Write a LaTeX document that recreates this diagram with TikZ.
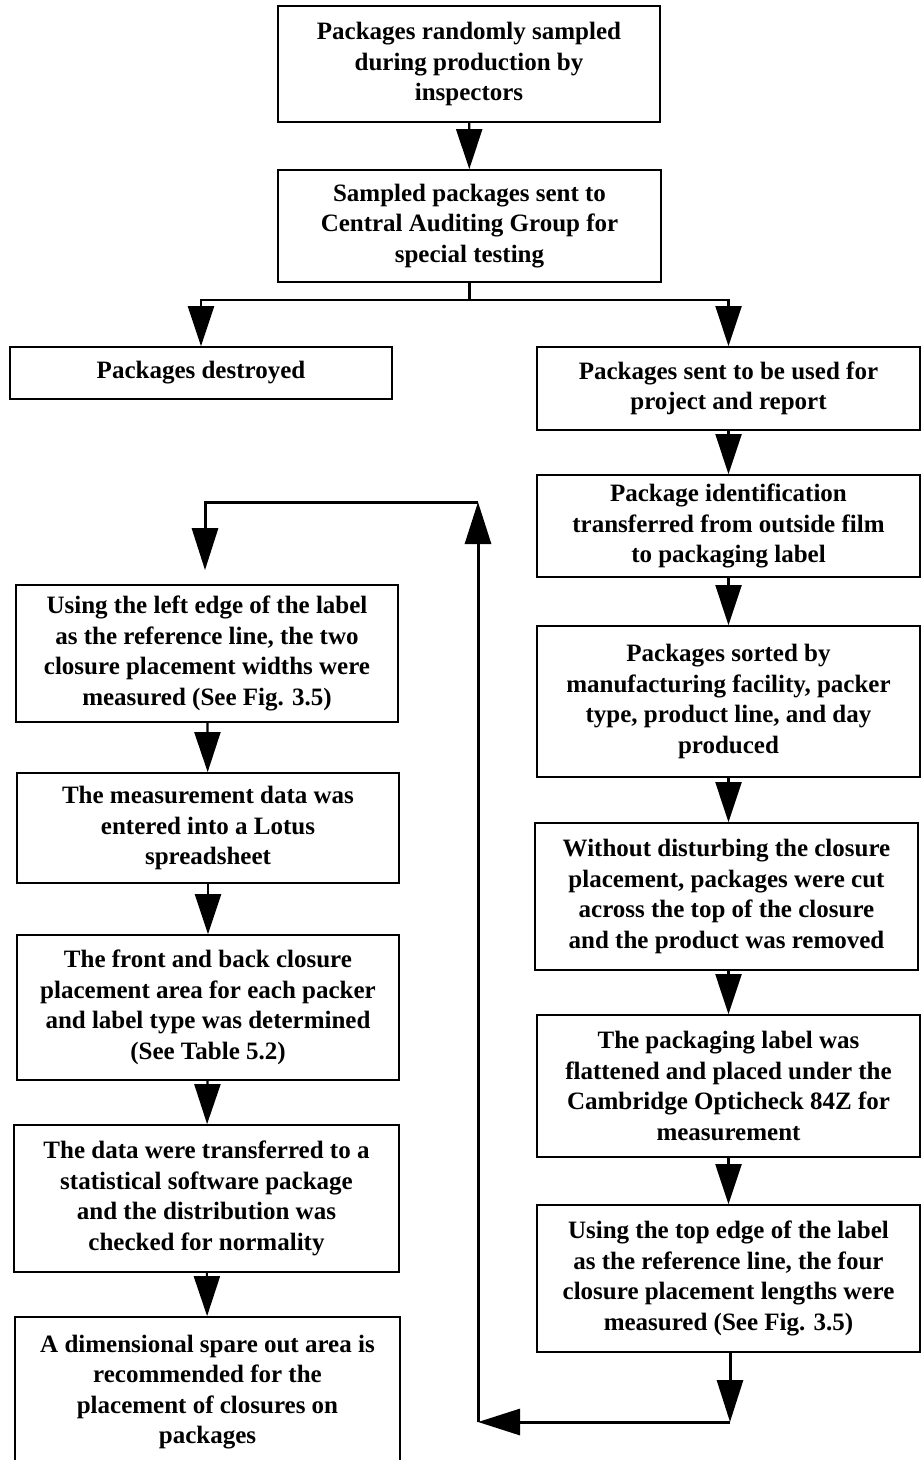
\documentclass[tikz,border=0pt]{standalone}
\usepackage{fontspec}
\setmainfont{Liberation Serif}
\usetikzlibrary{arrows.meta}
\tikzset{
  box/.style={draw, line width=1.8pt, align=center, inner sep=0pt,
    font=\fontsize{25}{30.5}\selectfont\bfseries},
  arr/.style={line width=2.2pt, -{Triangle[length=40pt,width=26pt]}},
  loop/.style={line width=3pt, -{Triangle[length=42pt,width=26pt]}}
}
\begin{document}
\begin{tikzpicture}[x=1pt,y=-1pt]
\useasboundingbox (0,0) rectangle (923,1460);
\clip (0,0) rectangle (923,1460);
% top
\node[box, minimum width=382, minimum height=116] (t1) at (469,64)
  {Packages randomly sampled\\during production by\\inspectors};
\node[box, minimum width=383, minimum height=112] (t2) at (469.5,226)
  {Sampled packages sent to\\Central Auditing Group for\\special testing};
\node[box, minimum width=382, minimum height=52] (d) at (201,373)
  {Packages destroyed};
% right column
\node[box, minimum width=383, minimum height=83] (r1) at (728.5,388.5)
  {Packages sent to be used for\\project and report};
\node[box, minimum width=383, minimum height=102] (r2) at (728.5,526)
  {Package identification\\transferred from outside film\\to packaging label};
\node[box, minimum width=383, minimum height=151] (r3) at (728.5,701.5)
  {Packages sorted by\\manufacturing facility, packer\\type, product line, and day\\produced};
\node[box, minimum width=383, minimum height=147] (r4) at (726.5,896.5)
  {Without disturbing the closure\\placement, packages were cut\\across the top of the closure\\and the product was removed};
\node[box, minimum width=383, minimum height=142] (r5) at (728.5,1086)
  {The packaging label was\\flattened and placed under the\\Cambridge Opticheck 84Z for\\measurement};
\node[box, minimum width=383, minimum height=147] (r6) at (728.5,1278.5)
  {Using the top edge of the label\\as the reference line, the four\\closure placement lengths were\\measured (See Fig. 3.5)};
% left column
\node[box, minimum width=382, minimum height=137] (l1) at (207,653.5)
  {Using the left edge of the label\\as the reference line, the two\\closure placement widths were\\measured (See Fig. 3.5)};
\node[box, minimum width=382, minimum height=110] (l2) at (208,828)
  {The measurement data was\\entered into a Lotus\\spreadsheet};
\node[box, minimum width=382, minimum height=145] (l3) at (208,1007.5)
  {The front and back closure\\placement area for each packer\\and label type was determined\\(See Table 5.2)};
\node[box, minimum width=385, minimum height=147] (l4) at (206.5,1198.5)
  {The data were transferred to a\\statistical software package\\and the distribution was\\checked for normality};
\node[box, minimum width=385, minimum height=150] (l5) at (207.5,1392)
  {A dimensional spare out area is\\recommended for the\\placement of closures on\\packages};
% connectors
\draw[arr] (t1) -- (t2);
\coordinate (b) at (469.5,300);
\draw[arr] (t2.south) -- (b) -| (d.north);
\draw[arr] (b) -| (r1.north);
\draw[arr] (r1) -- (r2);
\draw[arr] (r2) -- (r3);
\draw[arr] (r3.south) -- (r3.south |- r4.north);
\draw[arr] (r4.south -| r5.north) -- (r5.north);
\draw[arr] (r5) -- (r6);
\draw[arr] (l1) -- (l2);
\draw[arr] (l2) -- (l3);
\draw[arr] (l3) -- (l4);
\draw[arr] (l4) -- (l5);
% loop
\coordinate (c1) at (730,1422);
\coordinate (c2) at (478,1422);
\coordinate (c3) at (478,502);
\coordinate (c4) at (205,502);
\draw[loop] (r6.south -| c1) -- (c1);
\draw[loop] (c1) -- (c2);
\draw[loop] (c2) -- (c3);
\draw[loop, shorten >=14pt] (c3) -- (c4) -- (c4 |- l1.north);
\end{tikzpicture}
\end{document}
